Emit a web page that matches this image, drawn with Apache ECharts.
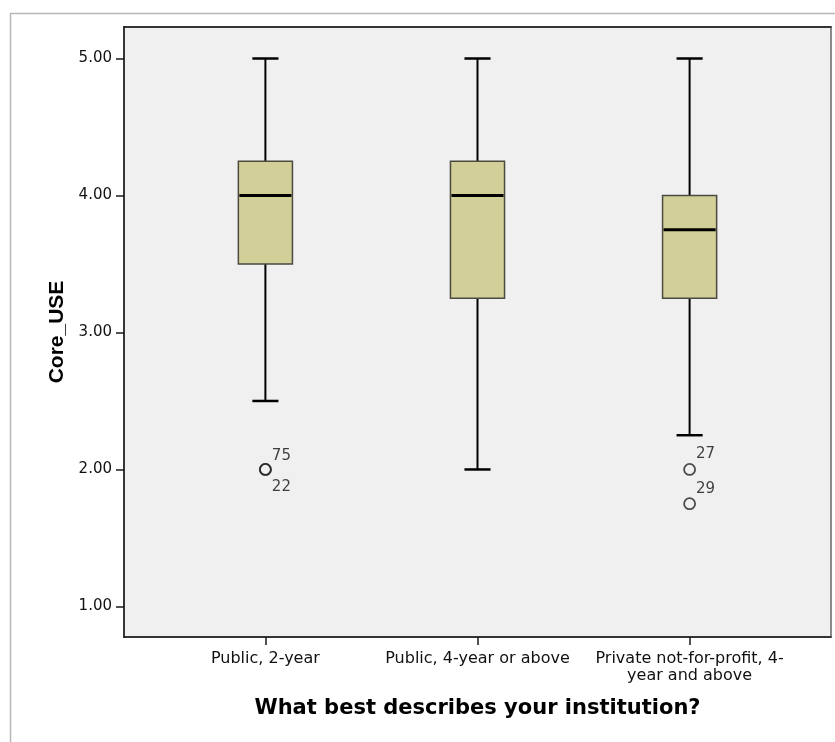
<!DOCTYPE html>
<html>
<head>
<meta charset="utf-8">
<style>
  html, body { margin: 0; padding: 0; background: #ffffff; }
  #chart { width: 835px; height: 742px; }
</style>
<script src="https://cdn.jsdelivr.net/npm/echarts@6/dist/echarts.min.js"></script>
</head>
<body>
<div id="chart"></div>
<script>
// Institution types shown along the horizontal axis
const categories = [
  'Public, 2-year',
  'Public, 4-year or above',
  'Private not-for-profit, 4-\nyear and above'
];

// Five-number summaries of Core_USE per institution type
const whiskerLow  = [2.50, 2.00, 2.25];
const quartile1   = [3.50, 3.25, 3.25];
const medians     = [4.00, 4.00, 3.75];
const quartile3   = [4.25, 4.25, 4.00];
const whiskerHigh = [5.00, 5.00, 5.00];

// Outlying cases: category index, value, case number
const outlierGroup = [0, 0, 2, 2];
const outlierValue = [2.00, 2.00, 2.00, 1.75];
const outlierCase  = ['75', '22', '27', '29'];

// Y axis tick values
const yTicks = [1, 2, 3, 4, 5];

const WIDE = '"DejaVu Sans", Verdana, sans-serif';
const NARROW = '"Liberation Sans", Arial, sans-serif';

const boxData = categories.map((c, i) => [
  i + 1, whiskerLow[i], quartile1[i], medians[i], quartile3[i], whiskerHigh[i]
]);

// label placement for each outlier case number (above-right or below-right)
const outlierLabelOffset = { '75': [16, -13], '22': [16, 18], '27': [16, -15], '29': [16, -15] };

const outlierData = outlierGroup.map((g, i) => ({
  value: [g + 1, outlierValue[i]],
  name: outlierCase[i],
  label: {
    show: true,
    formatter: outlierCase[i],
    position: 'inside',
    offset: outlierLabelOffset[outlierCase[i]]
  }
}));

function renderBox(params, api) {
  const x = api.value(0);
  const lo = api.coord([x, api.value(1)]);
  const q1 = api.coord([x, api.value(2)]);
  const md = api.coord([x, api.value(3)]);
  const q3 = api.coord([x, api.value(4)]);
  const hi = api.coord([x, api.value(5)]);
  const unit = api.size([1, 0])[0];
  const boxW = unit * 0.255;
  const capW = unit * 0.123;
  const cx = lo[0];
  return {
    type: 'group',
    children: [
      { type: 'line', shape: { x1: cx, y1: hi[1], x2: cx, y2: q3[1] },
        style: { stroke: '#000', lineWidth: 2 } },
      { type: 'line', shape: { x1: cx, y1: q1[1], x2: cx, y2: lo[1] },
        style: { stroke: '#000', lineWidth: 2 } },
      { type: 'line', shape: { x1: cx - capW / 2, y1: hi[1], x2: cx + capW / 2, y2: hi[1] },
        style: { stroke: '#000', lineWidth: 2.5 } },
      { type: 'line', shape: { x1: cx - capW / 2, y1: lo[1], x2: cx + capW / 2, y2: lo[1] },
        style: { stroke: '#000', lineWidth: 2.5 } },
      { type: 'rect', shape: { x: cx - boxW / 2, y: q3[1], width: boxW, height: q1[1] - q3[1] },
        style: { fill: '#d3cf98', stroke: '#4a4a40', lineWidth: 1.5 } },
      { type: 'line', shape: { x1: cx - boxW / 2 + 1, y1: md[1], x2: cx + boxW / 2 - 1, y2: md[1] },
        style: { stroke: '#000', lineWidth: 3 } }
    ]
  };
}

const chart = echarts.init(document.getElementById('chart'), null, { renderer: 'canvas' });

chart.setOption({
  animation: false,
  backgroundColor: '#ffffff',
  graphic: [
    { type: 'rect', left: 8, top: 11, shape: { width: 900, height: 800 },
      style: { fill: 'none', stroke: '#b8b8b8', lineWidth: 1.5 }, z: -10 }
  ],
  grid: {
    left: 124, top: 27, right: 4, bottom: 105,
    show: true,
    backgroundColor: '#f0f0f0',
    borderColor: '#8a8a8a',
    borderWidth: 2
  },
  xAxis: [
    {
      type: 'value',
      min: 1 / 3,
      max: 11 / 3,
      position: 'bottom',
      name: 'What best describes your institution?',
      nameLocation: 'middle',
      nameGap: 61,
      nameTextStyle: { fontFamily: WIDE, fontSize: 21, fontWeight: 'bold', color: '#000' },
      axisLine: { show: true, onZero: false, lineStyle: { color: '#1a1a1a', width: 1.5 } },
      axisTick: { show: true, customValues: [1, 2, 3], length: 8, lineStyle: { color: '#1a1a1a', width: 1.5 } },
      axisLabel: {
        customValues: [1, 2, 3],
        formatter: (v) => categories[Math.round(v) - 1] || '',
        fontFamily: WIDE, fontSize: 16, color: '#111', margin: 13, lineHeight: 17
      },
      splitLine: { show: false }
    },
    {
      type: 'value',
      min: 1 / 3,
      max: 11 / 3,
      position: 'top',
      axisLine: { show: true, onZero: false, lineStyle: { color: '#1a1a1a', width: 1.5 } },
      axisTick: { show: false },
      axisLabel: { show: false },
      splitLine: { show: false }
    }
  ],
  yAxis: {
    type: 'value',
    min: 0.777,
    max: 5.23,
    name: 'Core_USE',
    nameLocation: 'middle',
    nameGap: 52,
    nameTextStyle: { fontFamily: NARROW, fontSize: 21, fontWeight: 'bold', color: '#000' },
    axisLine: { show: true, onZero: false, lineStyle: { color: '#1a1a1a', width: 1.5 } },
    axisTick: { show: true, customValues: yTicks, length: 8, lineStyle: { color: '#1a1a1a', width: 1.5 } },
    axisLabel: {
      customValues: yTicks,
      formatter: (v) => v.toFixed(2),
      fontFamily: WIDE, fontSize: 15, color: '#111', margin: 12
    },
    splitLine: { show: false }
  },
  series: [
    {
      type: 'custom',
      xAxisIndex: 0,
      renderItem: renderBox,
      encode: { x: 0, y: [1, 2, 3, 4, 5] },
      data: boxData,
      z: 2
    },
    {
      type: 'scatter',
      xAxisIndex: 0,
      symbol: 'circle',
      symbolSize: 11,
      itemStyle: { color: 'rgba(0,0,0,0)', borderColor: '#222', borderWidth: 1.8 },
      label: { fontFamily: WIDE, fontSize: 15, color: '#111' },
      data: outlierData,
      z: 3
    }
  ]
});
</script>
</body>
</html>
